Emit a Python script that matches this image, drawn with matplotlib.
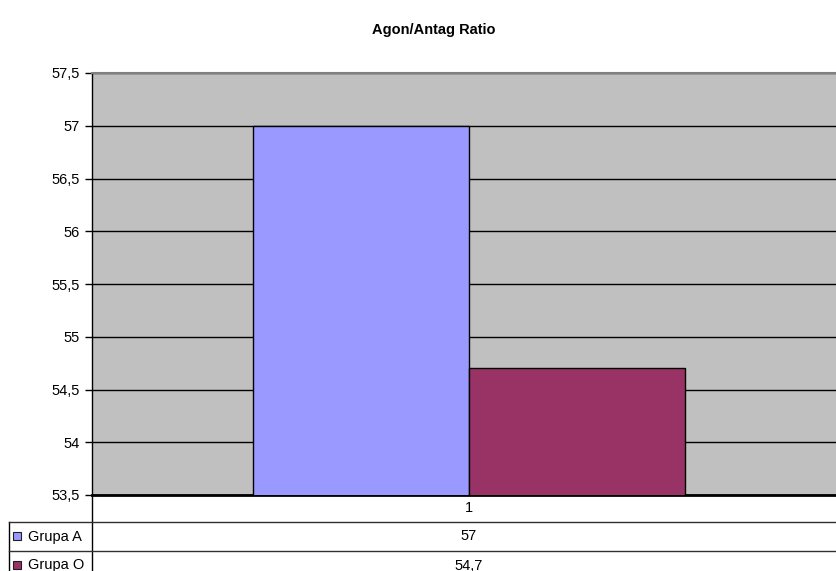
import matplotlib.pyplot as plt
from matplotlib.ticker import MultipleLocator, FuncFormatter
from matplotlib.lines import Line2D
from matplotlib.patches import Rectangle
import matplotlib.transforms as mtransforms

plt.rcParams['font.family'] = ['Liberation Sans', 'DejaVu Sans']

title = 'Agon/Antag Ratio'
categories = ['1']
series_names = ['Grupa A', 'Grupa O']
series_values = [[57], [54.7]]
series_colors = ['#9999FF', '#993366']
y_min, y_max, y_step = 53.5, 57.5, 0.5

FS = 10.5


def comma(v, pos=None):
    s = f'{v:g}'
    return s.replace('.', ',')


W, H = 836, 571
fig = plt.figure(figsize=(W / 100, H / 100), dpi=100)

# plot area in pixel units (runs a little past the right edge)
left, top, right, bottom = 92, 73, 846, 495
ax = fig.add_axes([left / W, 1 - bottom / H, (right - left) / W, (bottom - top) / H])
ax.set_facecolor('#C0C0C0')

bar_w = 0.287
n = len(series_names)
for i, (name, vals, col) in enumerate(zip(series_names, series_values, series_colors)):
    offs = (i - (n - 1) / 2) * bar_w
    ax.bar([c + offs for c in range(len(categories))], vals, bar_w, bottom=0,
           color=col, edgecolor='black', linewidth=1, zorder=3)

ax.set_xlim(-0.5, len(categories) - 0.5)
ax.set_ylim(y_min, y_max)
ax.yaxis.set_major_locator(MultipleLocator(y_step))
ax.yaxis.set_major_formatter(FuncFormatter(comma))
ax.set_xticks([])
ax.tick_params(axis='y', direction='out', length=5, width=1, labelsize=FS, pad=4, colors='black')
ax.grid(axis='y', color='black', linewidth=1, zorder=1)
ax.set_axisbelow(True)

ax.spines['right'].set_visible(False)
ax.spines['top'].set_color('#808080')
ax.spines['top'].set_linewidth(1.5)
ax.spines['left'].set_color('black')
ax.spines['left'].set_linewidth(1)
ax.spines['bottom'].set_color('black')
ax.spines['bottom'].set_linewidth(2)

fig.text(434 / W, 1 - 30 / H, title, ha='center', va='center', fontsize=FS, fontweight='bold')

# data table below the plot area, in figure pixels
def fy(y):
    return 1 - y / H

def fx(x):
    return x / W

row_edges = [495, 522, 551, 580]
table_left = 9

fig.add_artist(Line2D([fx(left), fx(left)], [fy(bottom), fy(H)], color='black', linewidth=1))
fig.add_artist(Line2D([fx(table_left), fx(table_left)], [fy(row_edges[1]), fy(H)], color='black', linewidth=1))
for y in row_edges[1:3]:
    fig.add_artist(Line2D([fx(table_left), fx(right)], [fy(y), fy(y)], color='#303030', linewidth=1))

blend = mtransforms.blended_transform_factory(ax.transData, fig.transFigure)
for c, cat in enumerate(categories):
    ymid = (row_edges[0] + row_edges[1]) / 2
    fig.text(c, fy(ymid), cat, transform=blend, ha='center', va='center', fontsize=FS)
    for r, vals in enumerate(series_values):
        ymid = (row_edges[r + 1] + row_edges[r + 2]) / 2
        fig.text(c, fy(ymid), comma(vals[c]), transform=blend, ha='center', va='center', fontsize=FS)

for r, (name, col) in enumerate(zip(series_names, series_colors)):
    ymid = (row_edges[r + 1] + row_edges[r + 2]) / 2
    fig.add_artist(Rectangle((fx(13), fy(ymid + 3.5)), 8 / W, 8 / H, facecolor=col,
                             edgecolor='#202020', linewidth=0.8))
    fig.text(fx(28), fy(ymid), name, ha='left', va='center', fontsize=FS)

fig.savefig('out.png', dpi=100)
